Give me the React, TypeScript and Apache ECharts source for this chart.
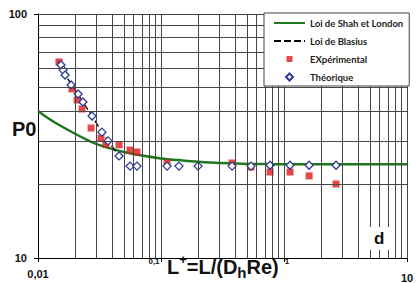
import React, { useEffect, useRef } from "react";
import * as echarts from "echarts";

// Loi de Shah et London
const shahX = [0.01, 0.012, 0.015, 0.02, 0.025, 0.03, 0.04, 0.05, 0.07, 0.1, 0.15, 0.2, 0.3, 0.5, 0.7, 1, 2, 5, 10];
const shahY = [40, 37.5, 35, 32.3, 30.5, 29.3, 28, 27.2, 26.3, 25.6, 25.1, 24.8, 24.5, 24.3, 24.3, 24.2, 24.2, 24.2, 24.2];

// Loi de Blasius
const blasiusX = [0.0145, 0.0166, 0.0186, 0.0212, 0.0232, 0.0275, 0.0331, 0.0371, 0.0456];
const blasiusY = [64, 56.5, 51.5, 47, 43.6, 38.2, 32.8, 30.2, 26.2];

// EXpérimental
const expX = [0.0148, 0.0189, 0.0208, 0.0228, 0.027, 0.0325, 0.0357, 0.0456, 0.056, 0.0638, 0.112, 0.378, 0.539, 0.77, 1.12, 1.6, 2.65];
const expY = [63.6, 49.3, 44.4, 40.8, 34.1, 31.0, 29.3, 29.1, 27.7, 27.2, 24.5, 24.5, 23.6, 22.5, 22.5, 21.7, 20.1];

// Théorique
const theoX = [0.0154, 0.016, 0.0166, 0.0186, 0.0212, 0.0232, 0.0275, 0.0331, 0.0371, 0.0456, 0.056, 0.0638, 0.112, 0.14, 0.2, 0.378, 0.539, 0.77, 1.12, 1.6, 2.65];
const theoY = [61.8, 58.9, 56.2, 51.2, 47.0, 43.6, 38.2, 32.8, 30.2, 26.2, 23.8, 23.8, 23.8, 23.8, 23.8, 23.8, 23.8, 24.0, 24.0, 24.0, 24.0];

// minor grid lines
const xMinor = [0.02, 0.03, 0.04, 0.05, 0.06, 0.07, 0.08, 0.09, 0.2, 0.3, 0.4, 0.5, 0.6, 0.7, 0.8, 0.9, 2, 3, 4, 5, 6, 7, 8, 9];
const yMinor = [20, 30, 40, 50, 60, 70, 80, 90];

const legendNames = ["Loi de Shah et London", "Loi de Blasius", "EXpérimental", "Théorique"];

const GRID = "#464646";
const GREEN = "#1c7a1c";
const RED = "#dc1a1e";
const BLUE = "#2e3a98";
const FONT = "Liberation Sans, Arial, sans-serif";

const zip = (xs: number[], ys: number[]) => xs.map((x, i) => [x, ys[i]]);

export default function App() {
  const ref = useRef<HTMLDivElement>(null);
  useEffect(() => {
    if (!ref.current) return;
    const chart = echarts.init(ref.current, null, { renderer: "svg" });
    const option: any = {
      animation: false,
      backgroundColor: "#fff",
      grid: { left: 38, right: 11, top: 14, bottom: 25, outerBoundsMode: "none" },
      legend: {
        data: [
          { name: legendNames[0], itemStyle: { opacity: 0 } },
          { name: legendNames[1], itemStyle: { opacity: 0 } },
          { name: legendNames[2], icon: "path://M0,0M31,7M12.5,0.5h6v6h-6z" },
          { name: legendNames[3], icon: "path://M0,0M31,7M15.5,0L19,3.5L15.5,7L12,3.5Z" },
        ],
        orient: "vertical",
        left: 264,
        top: 13,
        backgroundColor: "#fff",
        borderColor: "#444",
        borderWidth: 1,
        borderRadius: 0,
        padding: [4, 6, 3, 9],
        itemWidth: 31,
        itemHeight: 7,
        itemGap: 6,
        z: 10,
        textStyle: { fontFamily: "Lato, sans-serif", fontWeight: "bold", fontSize: 9.5, color: "#222", lineHeight: 12 },
      },
      xAxis: {
        type: "log",
        logBase: 10,
        min: 0.01,
        max: 10,
        axisLine: { show: true, lineStyle: { color: "#000", width: 1 } },
        axisTick: { show: true, length: 4, lineStyle: { color: "#000" } },
        splitLine: { show: true, lineStyle: { color: GRID, width: 1 } },
        axisLabel: {
          margin: 2,
          color: "#111",
          fontFamily: FONT,
          fontWeight: "bold",
          fontSize: 11,
          formatter: (v: number) => {
            if (v < 0.05) return "{b|0,01}";
            if (v < 0.5) return "{s|0,1}";
            if (v < 5) return "{r|1}";
            return "{c|10}";
          },
          rich: {
            b: { fontFamily: FONT, fontWeight: "bold", fontSize: 11, color: "#111", padding: [8, 0, 0, 0] },
            c: { fontFamily: FONT, fontWeight: "bold", fontSize: 11, color: "#111", padding: [12, 0, 0, 0] },
            s: { fontFamily: FONT, fontWeight: "bold", fontSize: 8, color: "#111", lineHeight: 2, padding: [0, 14, 0, 0] },
            r: { fontFamily: FONT, fontWeight: "bold", fontSize: 8, color: "#111", lineHeight: 2, padding: [0, 0, 0, 6] },
          },
        },
      },
      yAxis: {
        type: "log",
        logBase: 10,
        min: 10,
        max: 100,
        axisLine: { show: true, lineStyle: { color: "#000", width: 1 } },
        axisTick: { show: true, length: 4, lineStyle: { color: "#000" } },
        splitLine: { show: true, lineStyle: { color: GRID, width: 1 } },
        axisLabel: {
          margin: 11,
          color: "#111",
          fontFamily: FONT,
          fontWeight: "bold",
          fontSize: 11,
        },
      },
      series: [
        {
          type: "line",
          name: "",
          data: [],
          silent: true,
          z: 1,
          markLine: {
            silent: true,
            symbol: ["none", "none"],
            label: { show: false },
            emphasis: { disabled: true },
            animation: false,
            lineStyle: { color: GRID, width: 1, type: "solid" },
            data: [...xMinor.map((v) => ({ xAxis: v })), ...yMinor.map((v) => ({ yAxis: v }))],
          },
        },
        {
          type: "line",
          name: legendNames[0],
          data: zip(shahX, shahY),
          symbol: "none",
          smooth: 0.3,
          z: 2,
          lineStyle: { color: GREEN, width: 2.5 },
          itemStyle: { color: GREEN },
        },
        {
          type: "line",
          name: legendNames[1],
          data: zip(blasiusX, blasiusY),
          symbol: "none",
          z: 2,
          lineStyle: { color: "#000", width: 1.3, type: [7, 3] },
          itemStyle: { color: "#000" },
        },
        {
          type: "scatter",
          name: legendNames[2],
          data: zip(expX, expY),
          symbol: "rect",
          symbolSize: 7,
          z: 3,
          itemStyle: { color: RED },
        },
        {
          type: "scatter",
          name: legendNames[3],
          data: zip(theoX, theoY),
          symbol: "diamond",
          symbolSize: 8,
          z: 4,
          itemStyle: { color: "#fff", borderColor: BLUE, borderWidth: 1.3, opacity: 1 },
        },
      ],
      graphic: [
        {
          type: "text",
          left: 366,
          top: 227,
          z: 20,
          style: {
            text: "d",
            font: "bold 17px Liberation Sans, Arial, sans-serif",
            fill: "#111",
            backgroundColor: "#fff",
            padding: [3, 8, 3, 8],
          },
        },
        {
          type: "text",
          left: 12,
          top: 119,
          z: 20,
          style: {
            text: "P0",
            font: "bold 20px Liberation Sans, Arial, sans-serif",
            fill: "#111",
          },
        },
        {
          type: "text",
          left: 167,
          top: 253,
          z: 20,
          style: {
            text: "{m|L}{sup|+}{m|=L/(D}{sub|h}{m|Re)}",
            rich: {
              m: { font: "bold 20px Liberation Sans, Arial, sans-serif", fill: "#111", lineHeight: 27 },
              sup: { font: "bold 13px Liberation Sans, Arial, sans-serif", fill: "#111", lineHeight: 14, verticalAlign: "top" },
              sub: { font: "bold 15px Liberation Sans, Arial, sans-serif", fill: "#111", lineHeight: 14, verticalAlign: "bottom" },
            },
          },
        },
      ],
    };
    chart.setOption(option);
    return () => chart.dispose();
  }, []);
  return <div ref={ref} style={{ width: 418, height: 283, position: "absolute", left: 0, top: 0 }} />;
}
